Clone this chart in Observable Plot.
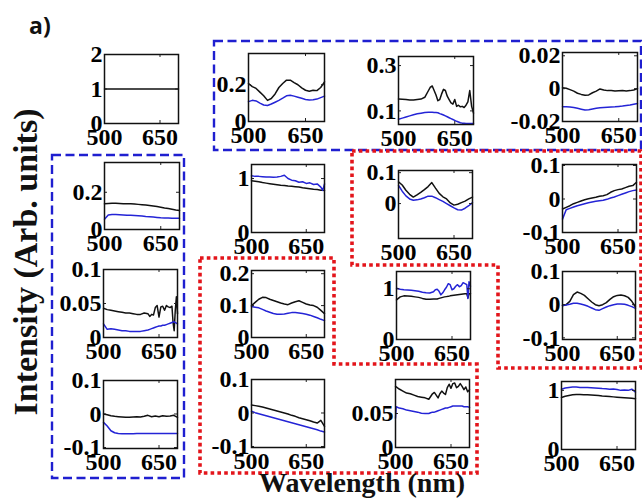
<!DOCTYPE html>
<html><head><meta charset="utf-8">
<script src="https://cdn.jsdelivr.net/npm/d3@7"></script>
<script src="https://cdn.jsdelivr.net/npm/@observablehq/plot@0.6"></script>
<style>
body{margin:0;background:#fff;}
#root{position:relative;width:642px;height:500px;overflow:hidden;background:#fff;}
.panel{position:absolute;}
.panel svg, .panel svg text{font-family:"Liberation Serif","Times New Roman",serif !important;font-weight:bold !important;font-size:24px !important;}
#overlay{position:absolute;left:0;top:0;pointer-events:none;}
.serif{font-family:"Liberation Serif","Times New Roman",serif;font-weight:bold;}
</style></head><body><div id="root"></div>
<script>
// ---------- data ----------
const xTicks = [500, 650];
const wl = [500,510,520,530,540,550,560,570,580,590,600,610,620,630,640,650,660,670,680,690,700];
const wl13 = [500,510,520,530,540,550,560,570,580,585,590,595,600,605,610,615,620,625,630,635,640,645,650,655,660,665,670,675,680,685,690,695,700];
const wl22 = [500,510,520,530,540,550,560,570,580,590,600,610,620,630,640,650,660,670,680,690,695,700];
const wl31 = [500,510,520,530,540,550,560,570,580,590,600,610,620,625,630,635,640,645,650,655,660,665,670,675,680,685,688,691,694,697,700];
const wl33 = [500,510,520,530,540,550,560,570,580,590,600,605,610,615,620,625,630,635,640,645,650,655,660,665,670,675,680,685,690,693,696,700];
const wl43 = [500,502,510,520,530,540,550,560,570,580,590,595,600,605,610,615,620,625,630,635,640,645,650,655,660,665,670,675,680,685,690,695,700];

const black11 = [1,1,1,1,1,1,1,1,1,1,1,1,1,1,1,1,1,1,1,1,1];

const black12 = [.207,.19,.18,.16,.14,.115,.125,.15,.185,.207,.225,.225,.212,.2,.183,.17,.165,.17,.168,.185,.216];
const blue12  = [.108,.115,.112,.1,.09,.087,.095,.105,.115,.127,.14,.143,.138,.132,.126,.12,.117,.118,.122,.13,.138];

const black13 = [.152,.151,.15,.148,.148,.15,.152,.16,.19,.205,.21,.19,.17,.145,.15,.175,.195,.19,.165,.15,.135,.13,.15,.12,.125,.118,.12,.115,.125,.14,.19,.12,.09];
const blue13  = [.063,.068,.073,.078,.083,.087,.09,.093,.094,.094,.094,.093,.093,.092,.088,.085,.082,.078,.074,.07,.066,.062,.058,.054,.051,.048,.046,.045,.044,.044,.044,.044,.044];

const black14 = [.0005,.0002,-.0006,-.0015,-.0028,-.0035,-.004,-.0038,-.0025,-.0015,-.0002,-.0008,-.0012,-.0012,-.0015,-.0013,-.0012,-.0014,-.0012,-.0008,0];
const blue14  = [-.011,-.011,-.0112,-.0115,-.012,-.0125,-.013,-.0128,-.0124,-.012,-.0117,-.0115,-.0113,-.0111,-.011,-.0108,-.0106,-.0103,-.01,-.0095,-.009];

const black21 = [.138,.14,.141,.141,.14,.139,.139,.138,.137,.135,.133,.131,.129,.126,.123,.12,.116,.113,.109,.105,.102];
const blue21  = [.055,.078,.08,.08,.079,.078,.077,.076,.075,.074,.072,.07,.069,.067,.065,.063,.062,.062,.061,.061,.061];

const black22 = [.96,.95,.94,.925,.915,.905,.895,.885,.875,.87,.86,.855,.848,.842,.83,.82,.81,.8,.795,.785,.782,.78];
const blue22  = [1.05,1.04,1.04,1.035,1.03,1.03,1.025,1.03,1.04,1.06,1.0,.97,.96,.93,.94,.91,.92,.89,.9,.84,.78,.9];

const black23 = [.07,.06,.043,.03,.021,.028,.036,.045,.055,.068,.05,.033,.022,.015,.002,-.005,-.002,.003,.008,.015,.021];
const blue23  = [.059,.04,.025,.015,.011,.012,.015,.019,.024,.024,.019,.013,.007,0,-.007,-.014,-.02,-.021,-.015,-.007,.003];

const black24 = [-.03,-.025,-.02,-.014,-.01,-.006,-.002,.001,.003,.005,.008,.01,.013,.02,.025,.028,.03,.034,.038,.04,.05];
const blue24  = [-.06,-.032,-.028,-.024,-.02,-.017,-.014,-.011,-.009,-.007,-.005,-.004,-.001,.003,.006,.01,.014,.018,.022,.025,.027];

const black31 = [.043,.041,.04,.039,.038,.037,.036,.036,.035,.034,.034,.036,.035,.031,.034,.033,.044,.047,.03,.045,.046,.04,.047,.045,.044,.046,.022,.01,.04,.06,.035];
const blue31  = [.02,.012,.013,.012,.011,.01,.01,.009,.009,.009,.009,.01,.011,.012,.013,.014,.015,.016,.017,.017,.018,.018,.019,.02,.021,.022,.023,.023,.022,.021,.02];

const black32 = [.1,.11,.12,.126,.125,.12,.116,.112,.108,.105,.103,.108,.112,.115,.11,.105,.102,.1,.095,.085,.075];
const blue32  = [.097,.095,.093,.088,.083,.079,.075,.073,.073,.074,.076,.078,.078,.077,.075,.073,.07,.066,.062,.057,.053];

const black33 = [.78,.84,.86,.855,.85,.84,.83,.81,.795,.795,.8,.8,.8,.81,.82,.83,.84,.845,.85,.86,.865,.87,.875,.88,.885,.89,.895,.9,.9,.82,.9,.9];
const blue33  = [1.01,.99,.98,.975,.97,.96,.95,.93,.92,.915,.94,.98,.99,.95,.88,.92,.98,1.03,1.1,1.08,.98,1.0,1.05,1.08,1.04,1.06,1.12,1.1,1.08,.81,1.14,1.05];

const black34 = [-.003,0,.01,.03,.038,.034,.028,.018,.008,0,-.003,0,.006,.016,.024,.028,.029,.027,.022,.01,-.007];
const blue34  = [-.002,-.001,.001,.004,.004,.002,-.001,-.005,-.01,-.015,-.017,-.012,-.007,-.003,0,.002,.002,.001,-.002,-.006,-.011];

const black41 = [0,-.002,-.005,-.007,-.008,-.009,-.01,-.01,-.009,-.008,-.009,-.007,-.004,-.008,-.006,-.008,-.005,-.007,-.006,-.004,-.01];
const blue41  = [-.025,-.036,-.05,-.056,-.058,-.059,-.059,-.059,-.059,-.058,-.058,-.058,-.058,-.058,-.058,-.058,-.058,-.058,-.058,-.058,-.058];

const black42 = [.024,.022,.02,.018,.015,.012,.009,.006,.003,0,-.003,-.007,-.01,-.014,-.017,-.02,-.023,-.027,-.03,-.022,-.04];
const blue42  = [.005,.001,-.002,-.005,-.008,-.011,-.014,-.017,-.02,-.023,-.026,-.029,-.032,-.035,-.038,-.041,-.044,-.047,-.05,-.054,-.057];

const black43 = [.09,.089,.086,.083,.08,.079,.077,.075,.074,.073,.071,.075,.079,.081,.077,.073,.079,.083,.08,.078,.088,.093,.087,.094,.095,.088,.09,.094,.09,.085,.089,.082,.085];
const blue43  = [.043,.06,.058,.057,.055,.054,.053,.052,.0505,.05,.05,.051,.052,.052,.053,.054,.055,.056,.057,.058,.058,.059,.06,.061,.061,.061,.061,.061,.061,.06,.06,.06,.059];

const black44 = [.88,.9,.915,.925,.93,.93,.928,.925,.922,.918,.913,.905,.9,.895,.89,.885,.88,.875,.87,.865,.86];
const blue44  = [1.02,1.04,1.05,1.055,1.055,1.05,1.048,1.05,1.045,1.04,1.035,1.03,1.028,1.02,1.025,1.015,1,1.005,1,1.02,.97];

// y ticks per panel
const ticks11 = [0,1,2], ticks12 = [0,0.2], ticks13 = [0.1,0.3], ticks14 = [-0.02,0,0.02];
const ticks21 = [0,0.2], ticks22 = [0,1], ticks23 = [0,0.1], ticks24 = [-0.1,0,0.1];
const ticks31 = [0,0.05,0.1], ticks32 = [0,0.1,0.2], ticks33 = [0,1], ticks34 = [-0.1,0,0.1];
const ticks41 = [-0.1,0,0.1], ticks42 = [-0.1,0,0.1], ticks43 = [0,0.05], ticks44 = [0,1];

// ---------- layout ----------
const panels = [
  {box:[104,54,74,69],  yd:[0,2],          yt:ticks11, x:wl,   k:black11, b:null},
  {box:[248,53,76,68],  yd:[0,0.37],       yt:ticks12, x:wl,   k:black12, b:blue12},
  {box:[398,56,75,68],  yd:[0.04,0.34],    yt:ticks13, x:wl13, k:black13, b:blue13},
  {box:[562,52,75,69],  yd:[-0.02,0.022],  yt:ticks14, x:wl,   k:black14, b:blue14},
  {box:[104,162,75,67], yd:[0,0.36],       yt:ticks21, x:wl,   k:black21, b:blue21},
  {box:[251,164,73,68], yd:[0,1.26],       yt:ticks22, x:wl22, k:black22, b:blue22},
  {box:[398,170,74,68], yd:[-0.113,0.107], yt:ticks23, x:wl,   k:black23, b:blue23},
  {box:[562,164,74,68], yd:[-0.1,0.103],   yt:ticks24, x:wl,   k:black24, b:blue24},
  {box:[103,269,74,68], yd:[0,0.1],        yt:ticks31, x:wl31, k:black31, b:blue31},
  {box:[251,270,73,67], yd:[0,0.21],       yt:ticks32, x:wl,   k:black32, b:blue32},
  {box:[396,271,74,68], yd:[0,1.34],       yt:ticks33, x:wl33, k:black33, b:blue33},
  {box:[562,271,73,68], yd:[-0.105,0.1],   yt:ticks34, x:wl,   k:black34, b:blue34},
  {box:[103,380,74,68], yd:[-0.103,0.1],   yt:ticks41, x:wl,   k:black41, b:blue41},
  {box:[251,379,73,68], yd:[-0.103,0.1],   yt:ticks42, x:wl,   k:black42, b:blue42},
  {box:[395,379,74,68], yd:[0,0.1],        yt:ticks43, x:wl43, k:black43, b:blue43},
  {box:[561,381,74,68], yd:[0,1.15],       yt:ticks44, x:wl,   k:black44, b:blue44}
];

const BLUE = "#2424d6";
const root = document.getElementById("root");
const mL = 66, mR = 8, mT = 8, mB = 36;

for (const p of panels) {
  const [fx, fy, fw, fh] = p.box;
  const kData = p.x.map((w, i) => ({w, v: p.k[i]}));
  const bData = p.b ? p.x.map((w, i) => ({w, v: p.b[i]})) : [];
  const fig = Plot.plot({
    width: fw + mL + mR, height: fh + mT + mB,
    marginLeft: mL, marginRight: mR, marginTop: mT, marginBottom: mB,
    style: {background: "transparent", overflow: "visible"},
    x: {domain: [500, 700], ticks: xTicks, tickSize: 0, tickPadding: 4, label: null, tickFormat: d => String(d)},
    y: {domain: p.yd, ticks: p.yt, tickSize: 0, tickPadding: 2, label: null, tickFormat: d => String(d)},
    marks: [
      Plot.line(kData, {x: "w", y: "v", stroke: "#111", strokeWidth: 1.5}),
      Plot.line(bData, {x: "w", y: "v", stroke: BLUE, strokeWidth: 1.5}),
      Plot.tickX(xTicks, {x: d => d, insetTop: fh - 3, stroke: "#222", strokeWidth: 1}),
      Plot.tickX(xTicks, {x: d => d, insetBottom: fh - 3, stroke: "#222", strokeWidth: 1}),
      Plot.tickY(p.yt, {y: d => d, insetRight: fw - 3, stroke: "#222", strokeWidth: 1}),
      Plot.tickY(p.yt, {y: d => d, insetLeft: fw - 3, stroke: "#222", strokeWidth: 1}),
      Plot.frame({stroke: "#111", strokeWidth: 1.5})
    ]
  });
  const div = document.createElement("div");
  div.className = "panel";
  div.style.left = (fx - mL) + "px";
  div.style.top = (fy - mT) + "px";
  div.style.width = (fw + mL + mR) + "px";
  div.style.height = (fh + mT + mB) + "px";
  div.appendChild(fig);
  root.appendChild(div);
}

// ---------- overlay: group boxes and titles ----------
const svg = d3.select(root).append("svg").attr("id", "overlay").attr("width", 642).attr("height", 500);
const dashBlue = {stroke: "#1f1fd0", "stroke-width": 2.4, "stroke-dasharray": "9,4.5", fill: "none"};
const dotRed = {stroke: "#e3151b", "stroke-width": 3.6, "stroke-dasharray": "3.6,3.2", fill: "none"};
function poly(pts, st) {
  const el = svg.append("path").attr("d", "M" + pts.map(p => p.join(",")).join("L") + "Z");
  for (const k in st) el.attr(k, st[k]);
}
poly([[214,41],[641,41],[641,150],[214,150]], dashBlue);
poly([[52,155],[184,155],[184,478],[52,478]], dashBlue);
poly([[352,151],[641,151],[641,368],[498,368],[498,265],[352,265]], dotRed);
poly([[200,258],[334,258],[334,364],[477,364],[477,473],[200,473]], dotRed);

svg.append("text").attr("x", 29).attr("y", 34).text("a)")
  .attr("font-family", "'Open Sans', 'Liberation Sans', sans-serif").attr("font-weight", "bold")
  .attr("font-size", 23).attr("fill", "#111");
svg.append("text").attr("class", "serif").attr("transform", "translate(37,262) rotate(-90)").attr("text-anchor", "middle")
  .text("Intensity (Arb. units)").attr("font-size", 34).attr("fill", "#111");
svg.append("text").attr("class", "serif").attr("x", 362).attr("y", 492).attr("text-anchor", "middle")
  .text("Wavelength (nm)").attr("font-size", 28).attr("fill", "#111");
</script></body></html>
